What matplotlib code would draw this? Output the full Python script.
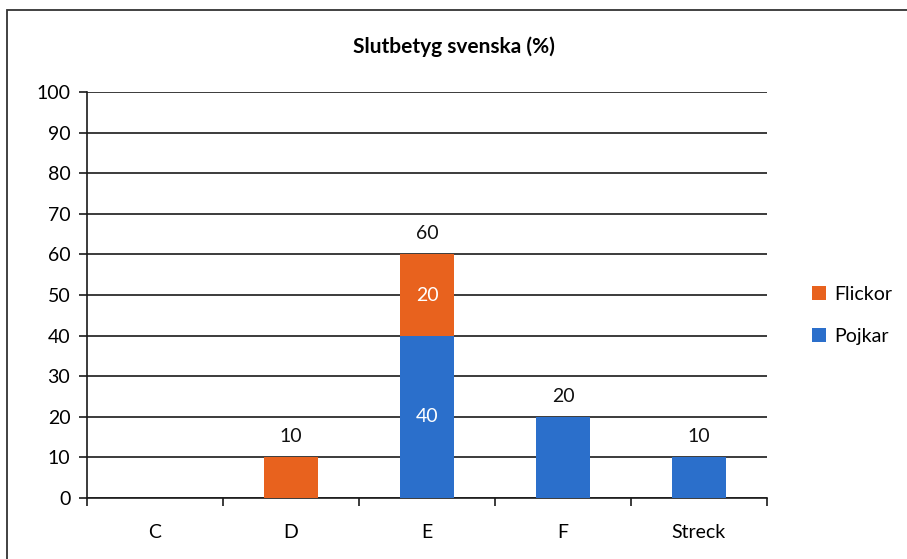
import matplotlib.pyplot as plt
import numpy as np
from matplotlib.patches import Rectangle

# Data
kategorier = ["C", "D", "E", "F", "Streck"]
pojkar = [0, 0, 40, 20, 10]
flickor = [0, 10, 20, 0, 0]
summa = [p + f for p, f in zip(pojkar, flickor)]

blue = "#2B6FCB"
orange = "#E8621E"

plt.rcParams['font.family'] = ['Lato', 'DejaVu Sans']

fig = plt.figure(figsize=(9.07, 5.59), dpi=100)
ax = fig.add_axes([0.0959, 0.109, 0.7497, 0.7263])

x = np.arange(len(kategorier))
ax.bar(x, pojkar, width=0.4, color=blue, label="Pojkar", zorder=3)
ax.bar(x, flickor, width=0.4, bottom=pojkar, color=orange, label="Flickor", zorder=3)

# summor ovanför staplarna
for i, s in enumerate(summa):
    if s > 0:
        ax.text(x[i], s + 3, str(s), ha="center", va="bottom", fontsize=14, color="#111111")

# etiketter inne i E-stapeln
i = kategorier.index("E")
ax.text(x[i], pojkar[i] / 2, str(pojkar[i]), ha="center", va="center", fontsize=14, color="white", zorder=4)
ax.text(x[i], pojkar[i] + flickor[i] / 2, str(flickor[i]), ha="center", va="center", fontsize=14, color="white", zorder=4)

ax.set_xlim(-0.5, len(kategorier) - 0.5)
ax.set_ylim(0, 100)
ax.set_yticks(np.arange(0, 101, 10))
ax.yaxis.grid(True, color="#1a1a1a", linewidth=1.2, zorder=0)
ax.set_axisbelow(True)

ax.set_xticks(x)
ax.set_xticklabels(kategorier, fontsize=14)
ax.set_xticks(np.arange(-0.5, len(kategorier), 1), minor=True)
ax.tick_params(axis="x", which="major", length=0, pad=19)
ax.tick_params(axis="x", which="minor", length=6, width=1.2, color="#1a1a1a")
ax.tick_params(axis="y", length=6, width=1.2, color="#1a1a1a", labelsize=14, pad=6)

for s in ["top", "right"]:
    ax.spines[s].set_visible(False)
ax.spines["left"].set_color("#1a1a1a")
ax.spines["bottom"].set_color("#1a1a1a")
ax.spines["left"].set_linewidth(1.2)
ax.spines["bottom"].set_linewidth(1.2)

fig.text(0.5, 1 - 47 / 559, "Slutbetyg svenska (%)", ha="center", va="center",
         fontsize=15, fontweight="bold")

handles, labels = ax.get_legend_handles_labels()
ax.legend(handles[::-1], labels[::-1], loc="center left", bbox_to_anchor=(1.04, 0.45),
          frameon=False, fontsize=14, handlelength=0.75, handleheight=0.75,
          handletextpad=0.4, labelspacing=1.3)

# ram runt diagrammet
fig.patches.append(Rectangle((7 / 907, -0.05), 1.1, 1 - 10 / 559 + 0.05,
                             transform=fig.transFigure, fill=False,
                             edgecolor="#333333", linewidth=1.3))

fig.savefig("out.png", dpi=100)
